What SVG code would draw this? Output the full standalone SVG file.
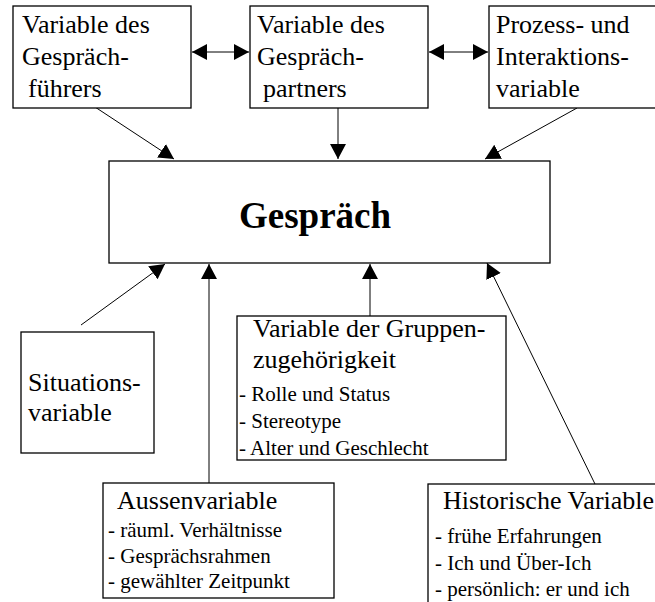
<svg xmlns="http://www.w3.org/2000/svg" width="655" height="602" viewBox="0 0 655 602" font-family="'Liberation Serif', 'Times New Roman', serif">
<defs>
<style>
.box{fill:#fff;stroke:#000;stroke-width:1.3}
.lbl{font-family:"Liberation Serif","Times New Roman",serif;font-size:26px;fill:#000}
.item{font-family:"Liberation Serif","Times New Roman",serif;font-size:21px;fill:#000}
.head{font-family:"Liberation Serif","Times New Roman",serif;font-size:37px;font-weight:bold;fill:#000}
.conn{stroke:#000;stroke-width:1;fill:none}
</style>
<marker id="ah" markerUnits="userSpaceOnUse" markerWidth="15" markerHeight="16" refX="15" refY="8" orient="auto-start-reverse" viewBox="0 0 15 16">
<path d="M0,0 L15,8 L0,16 z" fill="#000"/>
</marker>
</defs>
<rect width="655" height="602" fill="#fff"/>

<g id="connectors">
<line class="conn" x1="192" y1="52" x2="249" y2="52" marker-start="url(#ah)" marker-end="url(#ah)"/>
<line class="conn" x1="429" y1="52" x2="488" y2="52" marker-start="url(#ah)" marker-end="url(#ah)"/>
<line class="conn" x1="95" y1="107" x2="174" y2="159" marker-end="url(#ah)"/>
<line class="conn" x1="338" y1="108" x2="338" y2="159" marker-end="url(#ah)"/>
<line class="conn" x1="577" y1="108" x2="485" y2="159" marker-end="url(#ah)"/>
<line class="conn" x1="81" y1="325" x2="165" y2="264" marker-end="url(#ah)"/>
<line class="conn" x1="209" y1="483" x2="209" y2="264" marker-end="url(#ah)"/>
<line class="conn" x1="370" y1="316" x2="370" y2="264" marker-end="url(#ah)"/>
<line class="conn" x1="595" y1="484" x2="487" y2="263" marker-end="url(#ah)"/>
</g>

<g id="n-fuehrer">
<rect class="box" x="13" y="6" width="178" height="102"/>
<text class="lbl" x="22" y="33">Variable des</text>
<text class="lbl" x="22" y="65">Gespräch-</text>
<text class="lbl" x="28" y="97">führers</text>
</g>

<g id="n-partner">
<rect class="box" x="250" y="6" width="178" height="102"/>
<text class="lbl" x="257" y="33">Variable des</text>
<text class="lbl" x="257" y="65">Gespräch-</text>
<text class="lbl" x="263" y="97">partners</text>
</g>

<g id="n-prozess">
<rect class="box" x="489" y="6" width="180" height="102"/>
<text class="lbl" x="496" y="33">Prozess- und</text>
<text class="lbl" x="496" y="65">Interaktions-</text>
<text class="lbl" x="496" y="97">variable</text>
</g>

<g id="n-gespraech">
<rect class="box" x="109" y="161" width="441" height="102"/>
<text class="head" x="239" y="228">Gespräch</text>
</g>

<g id="n-situation">
<rect class="box" x="21" y="332" width="133" height="121"/>
<text class="lbl" x="28" y="391">Situations-</text>
<text class="lbl" x="28" y="421">variable</text>
</g>

<g id="n-gruppe">
<rect class="box" x="237" y="316" width="269" height="144"/>
<text class="lbl" x="253" y="337">Variable der Gruppen-</text>
<text class="lbl" x="253" y="368">zugehörigkeit</text>
<text class="item" x="239" y="401">- Rolle und Status</text>
<text class="item" x="239" y="428">- Stereotype</text>
<text class="item" x="239" y="455">- Alter und Geschlecht</text>
</g>

<g id="n-aussen">
<rect class="box" x="103" y="483" width="231" height="115"/>
<text class="lbl" x="117" y="509">Aussenvariable</text>
<text class="item" x="108" y="537">- räuml. Verhältnisse</text>
<text class="item" x="108" y="563">- Gesprächsrahmen</text>
<text class="item" x="108" y="588">- gewählter Zeitpunkt</text>
</g>

<g id="n-historisch">
<rect class="box" x="428" y="484" width="240" height="140"/>
<text class="lbl" x="443" y="509">Historische Variable</text>
<text class="item" x="435" y="543">- frühe Erfahrungen</text>
<text class="item" x="435" y="570">- Ich und Über-Ich</text>
<text class="item" x="435" y="596">- persönlich: er und ich</text>
</g>
</svg>
